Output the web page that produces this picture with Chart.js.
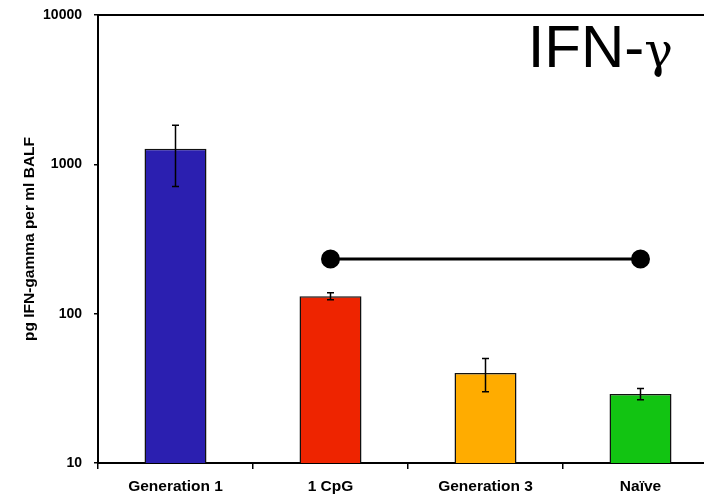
<!doctype html>
<html>
<head>
    <meta charset="UTF-8">
    <title>IFN-gamma</title>
    <script src="https://cdn.jsdelivr.net/npm/chart.js"></script>
    <style>
        html, body {
            margin: 0;
            padding: 0;
            background: #fff;
            overflow: hidden;
        }
        .quadro {
            position: relative;
            width: 730px;
            height: 498px;
        }
        .titulo {
            position: absolute;
            right: 57px;
            top: 17px;
            font-family: "Liberation Sans", Arial, sans-serif;
            font-size: 60px;
            color: #000;
            line-height: 1;
        }
        .titulo span {
            font-family: "DejaVu Serif", serif;
            font-size: 48px;
        }
    </style>
</head>
<body>
    <div class="quadro">
        <canvas id="grafico"></canvas>
        <div class="titulo">IFN-<span>&gamma;</span></div>
    </div>

    <script>
        var categorias = ['Generation 1', '1 CpG', 'Generation 3', 'Na\u00efve'];
        var valores = [1270, 131, 40, 29];
        var erros = [560, 7, 10, 2.5];
        var cores = ['#2b1fb0', '#ee2400', '#ffac00', '#12c412'];
        var linhaComparacao = [null, 232, null, 232];
        var ticksY = [10, 100, 1000, 10000];

        var fonte = '"Liberation Sans", Arial, sans-serif';

        // barras de erro desenhadas por cima das barras
        var barrasErro = {
            id: 'barrasErro',
            afterDatasetsDraw(chart) {
                var ctx = chart.ctx;
                var y = chart.scales.y;
                var meta = chart.getDatasetMeta(0);
                ctx.save();
                ctx.strokeStyle = '#000';
                ctx.lineWidth = 1.5;
                meta.data.forEach((barra, i) => {
                    var topo = y.getPixelForValue(valores[i] + erros[i]);
                    var base = y.getPixelForValue(valores[i] - erros[i]);
                    ctx.beginPath();
                    ctx.moveTo(barra.x, topo);
                    ctx.lineTo(barra.x, base);
                    ctx.moveTo(barra.x - 3.5, topo);
                    ctx.lineTo(barra.x + 3.5, topo);
                    ctx.moveTo(barra.x - 3.5, base);
                    ctx.lineTo(barra.x + 3.5, base);
                    ctx.stroke();
                });
                ctx.restore();
            }
        };

        // linha de cima da area do grafico
        var bordaTopo = {
            id: 'bordaTopo',
            afterDraw(chart) {
                var ctx = chart.ctx;
                var area = chart.chartArea;
                ctx.save();
                ctx.strokeStyle = '#000';
                ctx.lineWidth = 2;
                ctx.beginPath();
                ctx.moveTo(area.left - 1, area.top);
                ctx.lineTo(chart.width, area.top);
                ctx.stroke();
                ctx.restore();
            }
        };

        var grafico = new Chart(document.getElementById('grafico').getContext('2d'), {
            type: 'bar',
            data: {
                labels: categorias,
                datasets: [{
                    data: valores,
                    backgroundColor: cores,
                    borderColor: '#111',
                    borderWidth: 1.5,
                    categoryPercentage: 0.4,
                    barPercentage: 1,
                    order: 2
                }, {
                    type: 'line',
                    data: linhaComparacao,
                    spanGaps: true,
                    borderColor: '#000',
                    borderWidth: 3,
                    pointRadius: 8,
                    pointBackgroundColor: '#000',
                    pointBorderColor: '#000',
                    order: 1
                }]
            },
            options: {
                responsive: true,
                maintainAspectRatio: false,
                animation: false,
                layout: {
                    padding: { left: 0, top: 15, right: 12, bottom: 0 }
                },
                plugins: {
                    legend: { display: false },
                    tooltip: { enabled: false }
                },
                scales: {
                    x: {
                        afterFit: function (escala) { escala.height = 35; },
                        grid: {
                            offset: true,
                            drawOnChartArea: false,
                            tickLength: 6,
                            color: '#000',
                            lineWidth: 1.5
                        },
                        border: { color: '#000', width: 2 },
                        ticks: {
                            color: '#000',
                            padding: 8,
                            font: { family: fonte, size: 15.5, weight: 'bold' }
                        }
                    },
                    y: {
                        type: 'logarithmic',
                        min: 10,
                        max: 10000,
                        afterFit: function (escala) {
                            escala.width = 98;
                            escala.paddingTop = 0;
                            escala.paddingBottom = 0;
                        },
                        afterBuildTicks: function (escala) {
                            escala.ticks = ticksY.map(v => ({ value: v }));
                        },
                        grid: {
                            drawOnChartArea: false,
                            tickLength: 4,
                            color: '#000',
                            lineWidth: 1.5
                        },
                        border: { color: '#000', width: 2 },
                        ticks: {
                            color: '#000',
                            padding: 12,
                            font: { family: fonte, size: 14, weight: 'bold' },
                            callback: function (v) { return String(v); }
                        },
                        title: {
                            display: true,
                            text: 'pg IFN-gamma per ml BALF',
                            color: '#000',
                            padding: { top: 20, bottom: 0 },
                            font: { family: fonte, size: 15.5, weight: 'bold' }
                        }
                    }
                }
            },
            plugins: [barrasErro, bordaTopo]
        });
    </script>
</body>
</html>
